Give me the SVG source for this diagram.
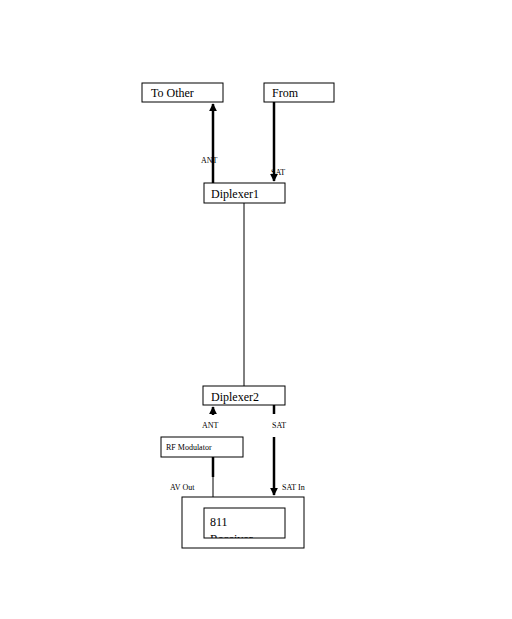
<svg xmlns="http://www.w3.org/2000/svg" width="512" height="619" viewBox="0 0 512 619">
<style>
.box{fill:#fff;stroke:#000;stroke-width:1}
.t{font-family:"Liberation Serif",serif;font-size:12px;fill:#000}
.s{font-family:"Liberation Serif",serif;font-size:8px;fill:#000}
.thick{stroke:#000;stroke-width:2.5;fill:none}
.thin{stroke:#000;stroke-width:1;fill:none}
</style>
<defs>
<marker id="ah" viewBox="0 0 10 10" refX="9" refY="5" markerWidth="3.2" markerHeight="3.2" orient="auto"><path d="M0,0L10,5L0,10z" fill="#000"/></marker>
<clipPath id="rc"><rect x="204" y="508" width="81" height="30"/></clipPath>
</defs>
<rect width="512" height="619" fill="#fff"/>
<g id="connectors">
<line class="thick" x1="213" y1="183" x2="213" y2="104" marker-end="url(#ah)"/>
<line class="thick" x1="274" y1="102" x2="274" y2="181" marker-end="url(#ah)"/>
<line class="thin" x1="244" y1="203" x2="244" y2="386"/>
<line class="thick" x1="213" y1="415" x2="213" y2="407" marker-end="url(#ah)"/>
<line class="thick" x1="274" y1="405" x2="274" y2="414"/>
<line class="thick" x1="274" y1="437" x2="274" y2="495" marker-end="url(#ah)"/>
<line class="thick" x1="213" y1="457" x2="213" y2="477"/>
<line class="thin" x1="213" y1="477" x2="213" y2="497"/>
<text class="s" x="201" y="163">ANT</text>
<text class="s" x="271" y="175">SAT</text>
<text class="s" x="202" y="428">ANT</text>
<text class="s" x="272" y="428">SAT</text>
<text class="s" x="170" y="490">AV Out</text>
<text class="s" x="282" y="490">SAT In</text>
</g>
<g id="to-other"><rect class="box" x="142" y="83" width="81" height="19"/><text class="t" x="151" y="97">To Other</text></g>
<g id="from"><rect class="box" x="264" y="83" width="70" height="19"/><text class="t" x="272" y="97">From</text></g>
<g id="diplexer1"><rect class="box" x="204" y="183" width="81" height="20"/><text class="t" x="211" y="198">Diplexer1</text></g>
<g id="diplexer2"><rect class="box" x="203" y="386" width="82" height="19"/><text class="t" x="211" y="401">Diplexer2</text></g>
<g id="rf-modulator"><rect class="box" x="161" y="437" width="82" height="20"/><text class="s" x="166" y="450">RF Modulator</text></g>
<g id="receiver"><rect class="box" x="182" y="497" width="122" height="51"/><rect class="box" x="204" y="508" width="81" height="30"/><g clip-path="url(#rc)"><text class="t" x="210" y="526">811</text><text class="t" x="210" y="543">Receiver</text></g></g>
</svg>
